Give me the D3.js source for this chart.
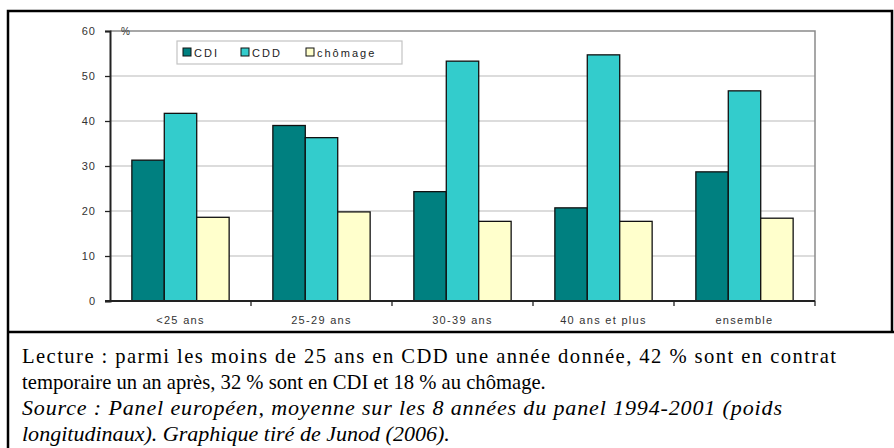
<!DOCTYPE html>
<html>
<head>
<meta charset="utf-8">
<script src="https://cdn.jsdelivr.net/npm/d3@7"></script>
<style>
  body { margin: 0; background: #fff; }
  svg { display: block; }
  .note { font-family: "Liberation Serif", "Times New Roman", serif; }
  .lbl { font-family: "Liberation Sans", Arial, sans-serif; }
</style>
</head>
<body>
<div id="chart-area"></div>
<script>
var categories = ["<25 ans", "25-29 ans", "30-39 ans", "40 ans et plus", "ensemble"]
var series = ["CDI", "CDD", "chômage"]
var cdi = [31.3, 39.0, 24.3, 20.7, 28.7]
var cdd = [41.7, 36.3, 53.3, 54.7, 46.7]
var chomage = [18.6, 19.8, 17.7, 17.7, 18.4]
var yTicks = [0, 10, 20, 30, 40, 50, 60]
var colors = ["#008080", "#33cccc", "#ffffcc"]

var note1 = "Lecture : parmi les moins de 25 ans en CDD une année donnée, 42 % sont en contrat"
var note2 = "temporaire un an après, 32 % sont en CDI et 18 % au chômage."
var note3 = "Source : Panel européen, moyenne sur les 8 années du panel 1994-2001 (poids"
var note4 = "longitudinaux). Graphique tiré de Junod (2006)."

var canvasWidth = 894, canvasHeight = 448
var plot = {left: 110, right: 815, top: 31, bottom: 301}

var svg = d3.select("#chart-area")
	.append("svg")
	.attr("width", canvasWidth)
	.attr("height", canvasHeight)

// outer frame
svg.append("path")
	.attr("d", "M8,448 V11 H892 V332")
	.attr("fill", "none")
	.attr("stroke", "#000")
	.attr("stroke-width", 2.5)
svg.append("line")
	.attr("x1", 8).attr("x2", 894)
	.attr("y1", 332).attr("y2", 332)
	.attr("stroke", "#000")
	.attr("stroke-width", 2.5)

var x0 = d3.scaleBand()
	.domain(categories)
	.range([plot.left, plot.right])
	.paddingInner(0.31)
	.paddingOuter(0.155)

var x1 = d3.scaleBand()
	.domain(series)
	.range([0, x0.bandwidth()])

var y = d3.scaleLinear()
	.domain([0, 60])
	.range([plot.bottom, plot.top])

// grid
svg.append("g")
	.selectAll("line")
	.data(yTicks.filter(function(d){ return d > 0 && d < 60 }))
	.enter().append("line")
		.attr("x1", plot.left).attr("x2", plot.right)
		.attr("y1", function(d){ return y(d) }).attr("y2", function(d){ return y(d) })
		.attr("stroke", "#d0d0d0")
		.attr("stroke-width", 1.5)

// top and right frame of plot
svg.append("path")
	.attr("d", "M" + plot.left + "," + plot.top + " H" + plot.right + " V" + plot.bottom)
	.attr("fill", "none")
	.attr("stroke", "#8a8a8a")
	.attr("stroke-width", 1.5)

var rows = categories.map(function(c, i){
	return {cat: c, values: [cdi[i], cdd[i], chomage[i]]}
})

svg.append("g")
	.selectAll("g")
	.data(rows)
	.enter().append("g")
		.attr("transform", function(d){ return "translate(" + x0(d.cat) + ",0)" })
	.selectAll("rect")
	.data(function(d){ return d.values.map(function(v, j){ return {s: series[j], v: v, j: j} }) })
	.enter().append("rect")
		.attr("x", function(d){ return x1(d.s) })
		.attr("width", x1.bandwidth())
		.attr("y", function(d){ return y(d.v) })
		.attr("height", function(d){ return y(0) - y(d.v) })
		.attr("fill", function(d){ return colors[d.j] })
		.attr("stroke", "#111")
		.attr("stroke-width", 1.3)

// y axis
var yAxis = svg.append("g")
	.attr("transform", "translate(" + plot.left + ",0)")
	.call(d3.axisLeft(y).tickValues(yTicks).tickSize(5).tickPadding(9))
yAxis.select(".domain").attr("stroke", "#222").attr("stroke-width", 2)
yAxis.selectAll(".tick line").attr("stroke", "#222").attr("stroke-width", 1.3)
yAxis.selectAll("text")
	.attr("class", "lbl")
	.attr("font-size", "11px")
	.attr("letter-spacing", "1px")
	.attr("fill", "#333")

svg.append("text")
	.attr("class", "lbl")
	.attr("x", 121).attr("y", 35)
	.attr("font-size", "10px")
	.attr("fill", "#333")
	.text("%")

// x axis
var boundaries = categories.map(function(c){ return x0(c) - x0.step() * x0.paddingInner() / 2 }).slice(1).concat([plot.right])
svg.append("line")
	.attr("x1", plot.left - 5).attr("x2", plot.right)
	.attr("y1", plot.bottom).attr("y2", plot.bottom)
	.attr("stroke", "#222")
	.attr("stroke-width", 2)
svg.append("g")
	.selectAll("line")
	.data(boundaries)
	.enter().append("line")
		.attr("x1", function(d){ return d }).attr("x2", function(d){ return d })
		.attr("y1", plot.bottom).attr("y2", plot.bottom + 5)
		.attr("stroke", "#222")
		.attr("stroke-width", 1.3)
svg.append("g")
	.selectAll("text")
	.data(categories)
	.enter().append("text")
		.attr("class", "lbl")
		.attr("x", function(d){ return x0(d) + x0.bandwidth() / 2 })
		.attr("y", 324)
		.attr("text-anchor", "middle")
		.attr("font-size", "11px")
		.attr("letter-spacing", "1.3px")
		.attr("fill", "#333")
		.text(function(d){ return d })

// legend
var legend = svg.append("g")
legend.append("rect")
	.attr("x", 177).attr("y", 41)
	.attr("width", 225).attr("height", 23)
	.attr("fill", "#fff")
	.attr("stroke", "#c4c4c4")
	.attr("stroke-width", 1.2)
var legendX = [183, 241, 306]
legend.selectAll("g")
	.data(series)
	.enter().append("g")
		.attr("transform", function(d, i){ return "translate(" + legendX[i] + ",48)" })
		.each(function(d, i){
			var g = d3.select(this)
			g.append("rect")
				.attr("width", 8).attr("height", 8)
				.attr("fill", colors[i])
				.attr("stroke", "#111")
				.attr("stroke-width", 1)
			g.append("text")
				.attr("class", "lbl")
				.attr("x", 11).attr("y", 8.5)
				.attr("font-size", "11px")
				.attr("letter-spacing", "2px")
				.attr("fill", "#222")
				.text(d)
		})

// notes: scanned text is condensed and the paragraph is justified,
// so the last line of each style sets the squeeze and the others spread their spaces
var notes = [
	{t: note1, y: 363, w: 814, italic: false, last: false},
	{t: note2, y: 389, w: 524, italic: false, last: true},
	{t: note3, y: 415, w: 760, italic: true, last: false},
	{t: note4, y: 441, w: 428, italic: true, last: true}
]
var noteText = svg.append("g")
	.selectAll("text")
	.data(notes)
	.enter().append("text")
		.attr("class", "note")
		.attr("x", 0)
		.attr("y", 0)
		.attr("font-size", "22px")
		.attr("font-style", function(d){ return d.italic ? "italic" : "normal" })
		.attr("fill", "#000")
		.text(function(d){ return d.t })

var nodes = noteText.nodes()
var sxNormal = notes[1].w / nodes[1].getComputedTextLength()
var sxItalic = notes[3].w / nodes[3].getComputedTextLength()
noteText.each(function(d){
	var sx = d.italic ? sxItalic : sxNormal
	var t = d3.select(this)
		.attr("transform", "translate(22," + d.y + ") scale(" + sx + ",1)")
	if (!d.last) {
		t.attr("textLength", d.w / sx).attr("lengthAdjust", "spacing")
	}
})
</script>
</body>
</html>
